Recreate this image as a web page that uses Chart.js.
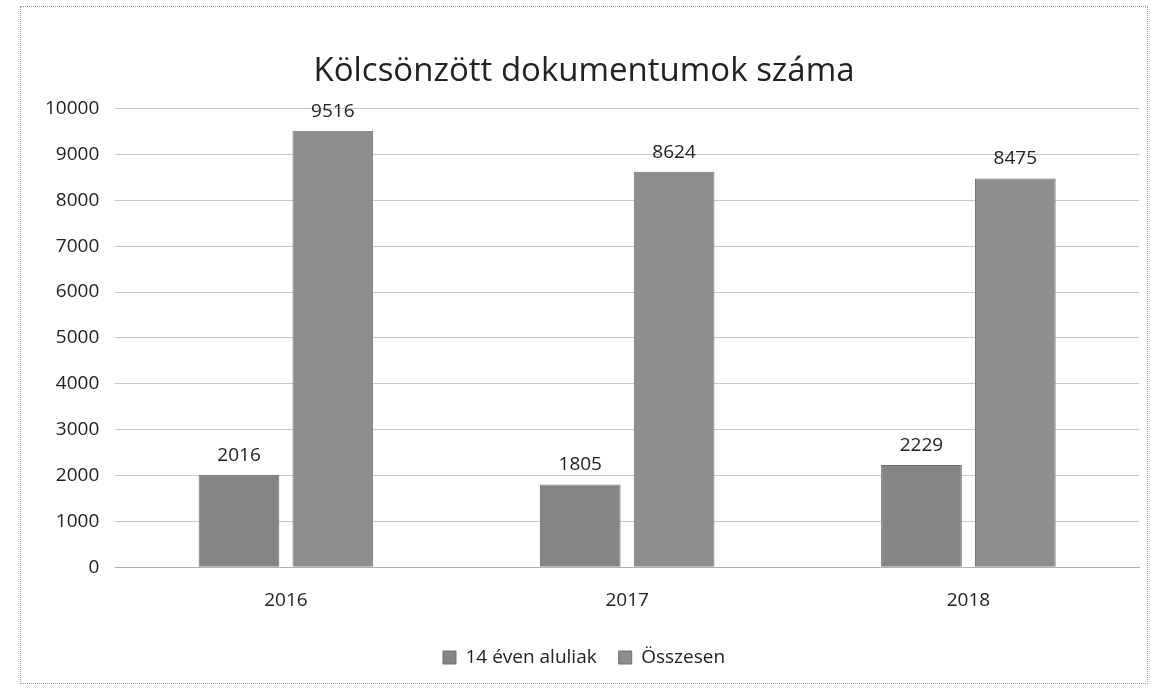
<!DOCTYPE html>
<html><head><meta charset="utf-8">
<script src="https://cdn.jsdelivr.net/npm/chart.js@4/dist/chart.umd.min.js"></script>
<style>
html,body{margin:0;padding:0;background:#fff;}
#wrap{position:absolute;left:20px;top:6px;width:1128px;height:678px;border:1px dotted #9a9a9a;box-sizing:border-box;}
canvas{display:block;}
</style></head><body>
<div id="wrap"><canvas id="c"></canvas></div>
<script>
const categories = ["2016", "2017", "2018"];
const under14 = [2016, 1805, 2229];
const total = [9516, 8624, 8475];
const seriesNames = ["14 éven aluliak", "Összesen"];
const titleText = "Kölcsönzött dokumentumok száma";

const FONT = '"Open Sans", sans-serif';
const labelPlugin = {
  id: 'valueLabels',
  afterDatasetsDraw(chart) {
    const ctx = chart.ctx;
    ctx.save();
    ctx.font = '19px ' + FONT;
    ctx.fillStyle = '#222';
    ctx.textAlign = 'center';
    ctx.textBaseline = 'bottom';
    chart.data.datasets.forEach((ds, i) => {
      const meta = chart.getDatasetMeta(i);
      meta.data.forEach((bar, j) => {
        ctx.fillText(String(ds.data[j]), bar.x, bar.y - 10);
      });
    });
    ctx.restore();
  }
};

new Chart(document.getElementById('c'), {
  type: 'bar',
  data: {
    labels: categories,
    datasets: [
      { label: seriesNames[0], data: under14, backgroundColor: '#858585', borderColor: '#6e6e6e', borderWidth: 1 },
      { label: seriesNames[1], data: total, backgroundColor: '#8e8e8e', borderColor: '#707070', borderWidth: 1 }
    ]
  },
  options: {
    responsive: true,
    maintainAspectRatio: false,
    animation: false,
    layout: { padding: { left: 8, right: 8, top: 10, bottom: 6 } },
    plugins: {
      title: { display: true, text: titleText, color: '#222', font: { family: FONT, size: 33, weight: 'normal' }, padding: { top: 35, bottom: 17 } },
      legend: { position: 'bottom', labels: { color: '#222', boxWidth: 13, boxHeight: 13, padding: 22, font: { family: FONT, size: 19 } } },
      tooltip: { enabled: false }
    },
    scales: {
      x: {
        grid: { display: false },
        border: { color: '#b0b0b0' },
        ticks: { color: '#222', font: { family: FONT, size: 19 }, padding: 14 }
      },
      y: {
        min: 0, max: 10000,
        ticks: { stepSize: 1000, color: '#222', padding: 16, font: { family: FONT, size: 19 }, callback: v => String(v) },
        grid: { color: '#c8c8c8', drawTicks: false },
        border: { display: false }
      }
    },
    datasets: { bar: { categoryPercentage: 0.55, barPercentage: 0.86 } }
  },
  plugins: [labelPlugin]
});
</script>
</body></html>
